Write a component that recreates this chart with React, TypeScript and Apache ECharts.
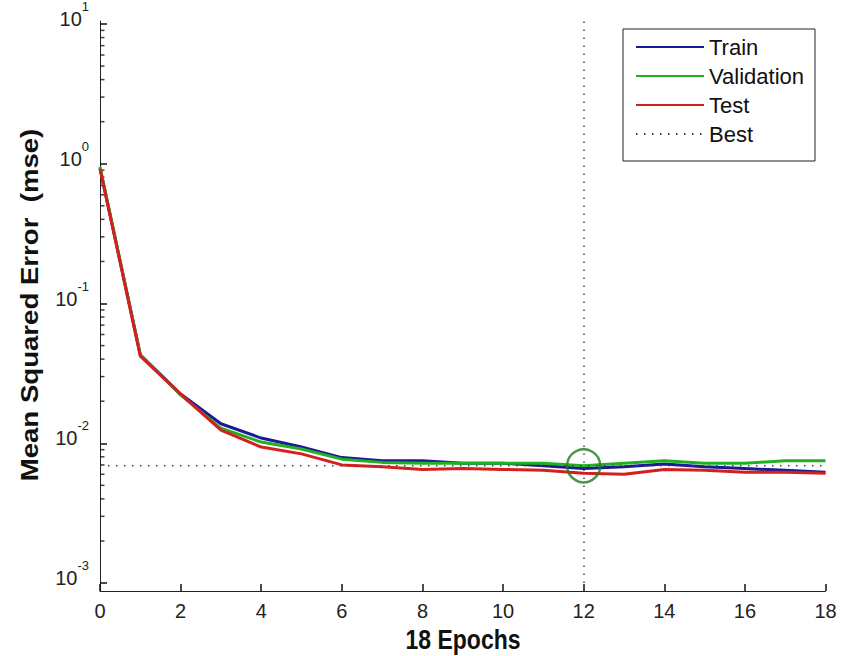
import React, { useEffect, useRef } from "react";
import * as echarts from "echarts";

const epochs = [0, 1, 2, 3, 4, 5, 6, 7, 8, 9, 10, 11, 12, 13, 14, 15, 16, 17, 18];
const trainMse = [0.93, 0.043, 0.0225, 0.0138, 0.0109, 0.0094, 0.0079, 0.0075, 0.0075, 0.0072, 0.0072, 0.0069, 0.0066, 0.0068, 0.0071, 0.0068, 0.0066, 0.0064, 0.0062];
const validationMse = [0.95, 0.043, 0.0222, 0.0128, 0.0102, 0.0091, 0.0077, 0.0073, 0.0072, 0.0072, 0.0072, 0.0072, 0.0069, 0.0072, 0.0075, 0.0072, 0.0072, 0.0075, 0.0075];
const testMse = [0.92, 0.042, 0.0225, 0.0124, 0.0094, 0.0084, 0.007, 0.0068, 0.0065, 0.0066, 0.0065, 0.0064, 0.0061, 0.006, 0.0065, 0.0064, 0.0062, 0.0062, 0.0061];
const bestEpoch = 12;
const bestValue = 0.0069;
const xTicks = [0, 2, 4, 6, 8, 10, 12, 14, 16, 18];
const yDecades = [-3, -2, -1, 0, 1];
const minorMultipliers = [2, 3, 4, 5, 6, 7, 8, 9];
const yMinLog = -3.057;
const yMaxLog = 1.021;

const FONT = '"Liberation Sans", Arial, sans-serif';

const toLogPairs = (vals: number[]) => vals.map((v, i) => [epochs[i], Math.log10(v)]);

export default function App() {
  const ref = useRef<HTMLDivElement>(null);
  useEffect(() => {
    if (!ref.current) return;
    const chart = echarts.init(ref.current, undefined, { renderer: "svg" });
    const minorTickData: number[][] = [];
    for (const d of yDecades.slice(0, -1)) {
      for (const m of minorMultipliers) minorTickData.push([0, Math.log10(m * Math.pow(10, d))]);
    }
    const bestLog = Math.log10(bestValue);
    const dotted = { type: [1.5, 6.5] as any, color: "#444", width: 1.5 };
    chart.setOption({
      animation: false,
      backgroundColor: "#ffffff",
      textStyle: { fontFamily: FONT },
      grid: { left: 100, right: 17.5, top: 20, bottom: 65, containLabel: false },
      legend: {
        data: ["Train", "Validation", "Test", "Best"],
        orient: "vertical",
        left: 623,
        top: 29,
        itemWidth: 68,
        itemHeight: 14,
        itemGap: 7,
        padding: [7, 11, 16, 12],
        borderColor: "#222",
        borderWidth: 1,
        backgroundColor: "#fff",
        itemStyle: { opacity: 0 },
        textStyle: { fontSize: 22, color: "#111", fontFamily: FONT },
      },
      xAxis: {
        type: "value",
        min: 0,
        max: 18,
        interval: 2,
        axisLine: { onZero: false, lineStyle: { color: "#222", width: 1 } },
        axisTick: { inside: true, length: 7, lineStyle: { color: "#111", width: 1.5 } },
        axisLabel: {
          color: "#222",
          fontSize: 20,
          margin: 10,
          fontFamily: FONT,
          customValues: xTicks,
        },
        splitLine: { show: false },
      },
      yAxis: {
        type: "value",
        min: yMinLog,
        max: yMaxLog,
        position: "left",
        axisLine: { show: true, onZero: false, lineStyle: { color: "#222", width: 1 } },
        axisTick: { show: true, inside: true, length: 7, customValues: yDecades, lineStyle: { color: "#111", width: 1.5 } },
        axisLabel: {
          customValues: yDecades,
          margin: 11,
          formatter: (v: number) => `{a|10}{b|${Math.round(v)}}`,
          rich: {
            a: { fontSize: 20, lineHeight: 20, color: "#222", verticalAlign: "bottom", padding: [0, 0, 5, 0], fontFamily: FONT },
            b: { fontSize: 13, lineHeight: 13, color: "#222", verticalAlign: "bottom", padding: [0, 0, 21, 0], fontFamily: FONT },
          },
        },
        splitLine: { show: false },
      },
      series: [
        {
          name: "yMinorTicks",
          type: "scatter",
          silent: true,
          clip: false,
          data: minorTickData,
          symbol: "rect",
          symbolSize: [4.5, 1.5],
          symbolOffset: [2.25, 0],
          itemStyle: { color: "#111" },
          z: 1,
        },
        {
          name: "Train",
          type: "line",
          data: toLogPairs(trainMse),
          showSymbol: false,
          symbol: "none",
          lineStyle: { color: "#1a1a96", width: 3 },
          itemStyle: { color: "#1a1a96" },
        },
        {
          name: "Validation",
          type: "line",
          data: toLogPairs(validationMse),
          showSymbol: false,
          symbol: "none",
          lineStyle: { color: "#22b022", width: 3 },
          itemStyle: { color: "#22b022" },
        },
        {
          name: "Test",
          type: "line",
          data: toLogPairs(testMse),
          showSymbol: false,
          symbol: "none",
          lineStyle: { color: "#d41f1f", width: 3 },
          itemStyle: { color: "#d41f1f" },
        },
        {
          name: "Best",
          type: "line",
          data: [
            [epochs[0], bestLog],
            [epochs[epochs.length - 1], bestLog],
          ],
          showSymbol: false,
          symbol: "none",
          lineStyle: dotted,
          itemStyle: { color: "#444" },
          markLine: {
            silent: true,
            symbol: ["none", "none"],
            label: { show: false },
            lineStyle: dotted,
            data: [{ xAxis: bestEpoch }],
          },
        },
        {
          name: "BestPoint",
          type: "scatter",
          data: [[bestEpoch, bestLog]],
          symbol: "circle",
          symbolSize: 33,
          itemStyle: { color: "rgba(0,0,0,0)", borderColor: "#1e7a1e", borderWidth: 2.5 },
          z: 5,
        },
      ],
      graphic: [
        {
          type: "text",
          x: 30,
          y: 305,
          rotation: Math.PI / 2,
          scaleX: 1.2,
          style: {
            text: "Mean Squared Error  (mse)",
            fontSize: 23,
            fontWeight: "bold",
            fontFamily: FONT,
            fill: "#111",
            align: "center",
            verticalAlign: "middle",
          },
        },
        {
          type: "text",
          x: 463,
          y: 639,
          scaleY: 1.2,
          style: {
            text: "18 Epochs",
            fontSize: 23,
            fontWeight: "bold",
            fontFamily: FONT,
            fill: "#111",
            align: "center",
            verticalAlign: "middle",
          },
        },
      ],
    });
    return () => chart.dispose();
  }, []);
  return (
    <div
      ref={ref}
      style={{ position: "absolute", left: 0, top: 0, width: 843, height: 656 }}
    />
  );
}
